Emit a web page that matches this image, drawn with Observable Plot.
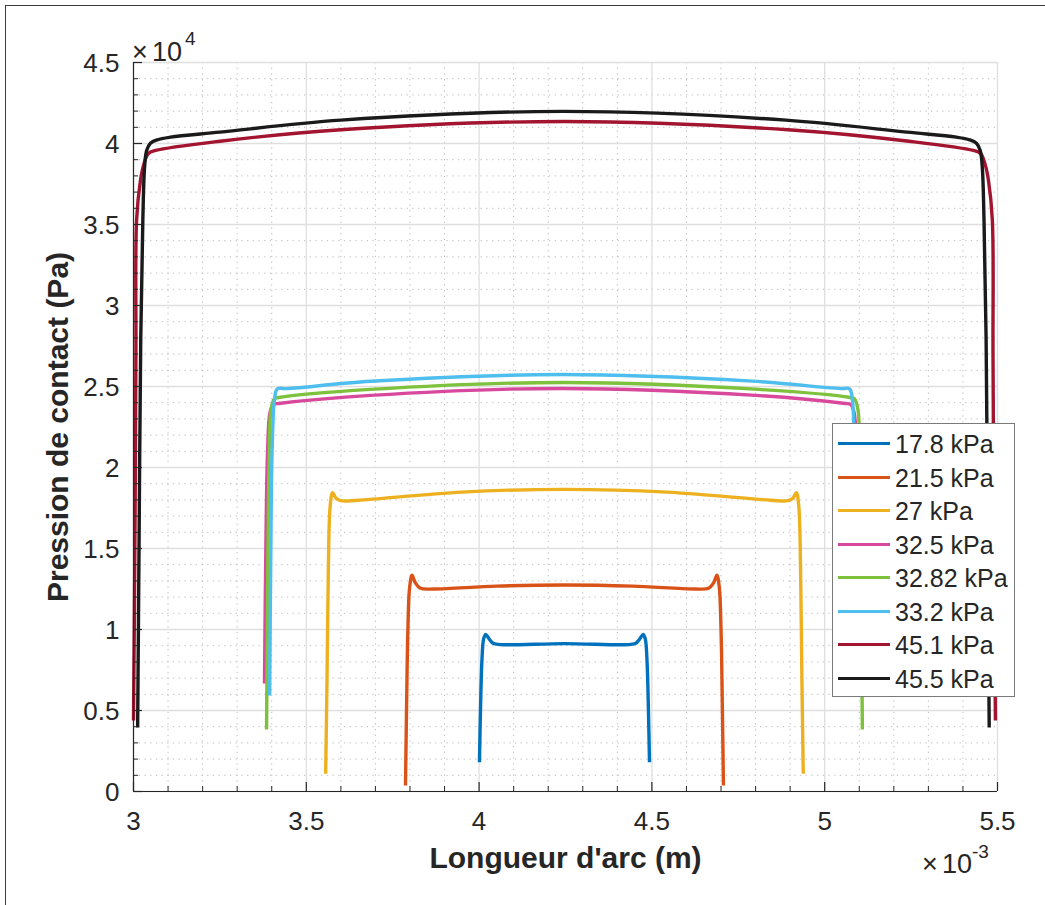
<!DOCTYPE html>
<html><head><meta charset="utf-8">
<script src="https://cdn.jsdelivr.net/npm/d3@7"></script>
<script src="https://cdn.jsdelivr.net/npm/@observablehq/plot@0.6"></script>
<style>
body{margin:0;background:#fff;font-family:"Liberation Sans",Arial,sans-serif;}
#wrap{position:relative;width:1045px;height:905px;overflow:hidden;background:#fff;}
#border{position:absolute;left:5px;top:5px;width:1100px;height:1000px;border-left:1px solid #3c3c3c;border-top:1px solid #3c3c3c;pointer-events:none;}
#chart{position:absolute;left:0;top:0;}
#notes{position:absolute;left:0;top:0;pointer-events:none;}
#legend{position:absolute;left:832px;top:423px;width:183px;height:274px;box-sizing:border-box;border:1px solid #7a7a7a;background:#fff;}
.row{position:absolute;left:0;height:30px;width:180px;}
.sw{position:absolute;left:5px;top:13px;width:52px;height:3.4px;}
.lab{position:absolute;left:62px;top:0;font-size:25px;line-height:30px;color:#262626;white-space:nowrap;}
</style></head>
<body><div id="wrap"><div id="chart"></div><div id="border"></div>
<svg id="notes" width="1045" height="905" font-family="'Liberation Sans', Arial, sans-serif" fill="#262626">
  <text x="132" y="61" font-size="27">×</text>
  <text x="152" y="61" font-size="27">10</text>
  <text x="185" y="45" font-size="19">4</text>
  <text x="922" y="873" font-size="27">×</text>
  <text x="942" y="873" font-size="27">10</text>
  <text x="972" y="858" font-size="19">-3</text>
</svg>
<div id="legend"></div>
</div>
<script>
const seriesNames = ["17.8 kPa","21.5 kPa","27 kPa","32.5 kPa","32.82 kPa","33.2 kPa","45.1 kPa","45.5 kPa"];
const seriesColors = ["#0072BD","#D95319","#EDB120","#D8489C","#7DC13C","#4DBEEE","#A2142F","#1A1A1A"];

// Longueur d'arc in units of 1e-3 m, pression in Pa
const x178 = [4.001,4.004,4.008,4.013,4.019,4.028,4.042,4.07,4.247,4.424,4.452,4.466,4.475,4.481,4.486,4.490,4.493];
const y178 = [1800,5000,8000,9400,9700,9450,9130,9060,9130,9060,9130,9450,9700,9400,8000,5000,1800];

const x215 = [3.787,3.790,3.794,3.799,3.806,3.815,3.830,3.87,4.05,4.247,4.444,4.624,4.664,4.679,4.688,4.695,4.700,4.704,4.707];
const y215 = [370,5000,10000,12600,13350,12900,12550,12500,12680,12750,12680,12500,12550,12900,13350,12600,10000,5000,370];

const x27 = [3.556,3.560,3.564,3.569,3.576,3.586,3.600,3.65,3.95,4.247,4.544,4.844,4.894,4.908,4.918,4.925,4.930,4.934,4.938];
const y27 = [1100,7000,14000,17600,18450,18100,17950,17980,18480,18650,18480,17980,17950,18100,18450,17600,14000,7000,1100];

const x325 = [3.379,3.383,3.388,3.395,3.405,3.42,3.686,4.24,4.80,5.06,5.075,5.085,5.092,5.097,5.100];
const y325 = [6670,15000,21000,23400,23900,23950,24450,24880,24450,23950,23900,23400,21000,15000,6670];

const x3282 = [3.385,3.388,3.392,3.398,3.408,3.42,3.686,4.247,4.81,5.074,5.086,5.096,5.102,5.106,5.109];
const y3282 = [3830,12000,20000,23600,24250,24320,24820,25250,24820,24320,24250,23600,20000,12000,3830];

const x332 = [3.394,3.397,3.401,3.407,3.414,3.422,3.435,3.686,4.24,4.79,5.054,5.066,5.074,5.081,5.085,5.088,5.091];
const y332 = [5930,14000,21000,24000,24800,24900,24870,25320,25740,25330,24870,24900,24800,24000,21000,14000,5930];

const x451 = [3.000,3.004,3.007,3.009,3.020,3.029,3.043,3.064,3.25,3.6,4.247,4.894,5.244,5.430,5.451,5.465,5.474,5.485,5.487,5.490,5.494];
const y451 = [4380,15000,27000,35300,37700,38650,39380,39570,40140,40850,41360,40850,40140,39570,39380,38650,37700,35300,27000,15000,4380];

const x455 = [3.012,3.016,3.021,3.027,3.032,3.038,3.049,3.069,3.107,3.25,3.6,4.244,4.888,5.238,5.381,5.419,5.439,5.450,5.456,5.461,5.467,5.472,5.476];
const y455 = [3950,15000,28000,35250,38520,39570,40020,40230,40390,40700,41440,41980,41440,40700,40390,40230,40020,39570,38520,35250,28000,15000,3950];

const xTickValues = [3,3.5,4,4.5,5,5.5];
const xTickLabels = ["3","3.5","4","4.5","5","5.5"];
const yTickValues = [0,5000,10000,15000,20000,25000,30000,35000,40000,45000];
const yTickLabels = ["0","0.5","1","1.5","2","2.5","3","3.5","4","4.5"];
const xLabel = "Longueur d'arc (m)";
const yLabel = "Pression de contact (Pa)";

const xs = [x178,x215,x27,x325,x3282,x332,x451,x455];
const ys = [y178,y215,y27,y325,y3282,y332,y451,y455];
const rows = [];
seriesNames.forEach((s,i)=>{ xs[i].forEach((x,j)=>rows.push({s, x, y: ys[i][j]})); });

const xMinor = d3.range(3,5.5001,0.1).map(v=>+v.toFixed(2)).filter(v=>!xTickValues.some(t=>Math.abs(t-v)<1e-6));
const yMinor = d3.range(0,45001,1000).filter(v=>v%5000!==0);

const W=1045,H=905,mL=133,mR=48,mT=62,mB=114;
const fw=W-mL-mR, fh=H-mT-mB;
const axisColor="#262626";

const chart = Plot.plot({
  width:W, height:H, marginLeft:mL, marginRight:mR, marginTop:mT, marginBottom:mB,
  style:{fontFamily:"'Liberation Sans', Arial, sans-serif", background:"transparent", overflow:"visible"},
  x:{domain:[3,5.5], axis:null},
  y:{domain:[0,45000], axis:null},
  color:{domain:seriesNames, range:seriesColors},
  marks:[
    Plot.ruleX(xMinor,{x:d=>d, stroke:"#bdbdbd", strokeWidth:1, strokeDasharray:"1.3,4.4"}),
    Plot.ruleY(yMinor,{y:d=>d, stroke:"#bdbdbd", strokeWidth:1, strokeDasharray:"1.3,4.4"}),
    Plot.ruleX(xTickValues,{x:d=>d, stroke:"#dfdfdf", strokeWidth:1.3}),
    Plot.ruleY(yTickValues,{y:d=>d, stroke:"#dfdfdf", strokeWidth:1.3}),
    Plot.line(rows,{x:"x", y:"y", z:"s", stroke:"s", strokeWidth:3.4, curve:"catmull-rom", strokeLinejoin:"round", strokeLinecap:"butt"}),
    Plot.ruleX([3],{x:d=>d, stroke:axisColor, strokeWidth:1.2}),
    Plot.ruleY([0],{y:d=>d, stroke:axisColor, strokeWidth:1.2}),
    Plot.tickX(xTickValues,{x:d=>d, insetTop:fh-9, stroke:axisColor, strokeWidth:1.2}),
    Plot.tickX(xMinor,{x:d=>d, insetTop:fh-5, stroke:axisColor, strokeWidth:1}),
    Plot.tickY(yTickValues,{y:d=>d, insetRight:fw-9, stroke:axisColor, strokeWidth:1.2}),
    Plot.tickY(yMinor,{y:d=>d, insetRight:fw-5, stroke:axisColor, strokeWidth:1}),
    Plot.text(xTickValues,{x:d=>d, text:(d,i)=>xTickLabels[i], frameAnchor:"bottom", dy:30, fontSize:26, fill:axisColor, textAnchor:"middle", lineAnchor:"middle"}),
    Plot.text(yTickValues,{y:d=>d, text:(d,i)=>yTickLabels[i], frameAnchor:"left", dx:-14, dy:1, textAnchor:"end", fontSize:26, fill:axisColor, lineAnchor:"middle"}),
    Plot.text([yLabel],{text:d=>d, frameAnchor:"left", dx:-75, rotate:-90, fontSize:30, fontWeight:"bold", fill:axisColor, textAnchor:"middle", lineAnchor:"middle"}),
    Plot.text([xLabel],{text:d=>d, frameAnchor:"bottom", dy:67, fontSize:30, fontWeight:"bold", fill:axisColor, textAnchor:"middle", lineAnchor:"middle"})
  ]
});
document.getElementById("chart").appendChild(chart);

const leg = document.getElementById("legend");
seriesNames.forEach((s,i)=>{
  const r = document.createElement("div");
  r.className="row";
  r.style.top = (5 + i*33.5) + "px";
  r.innerHTML = `<div class="sw" style="background:${seriesColors[i]}"></div><div class="lab">${s}</div>`;
  leg.appendChild(r);
});
</script>
</body></html>
